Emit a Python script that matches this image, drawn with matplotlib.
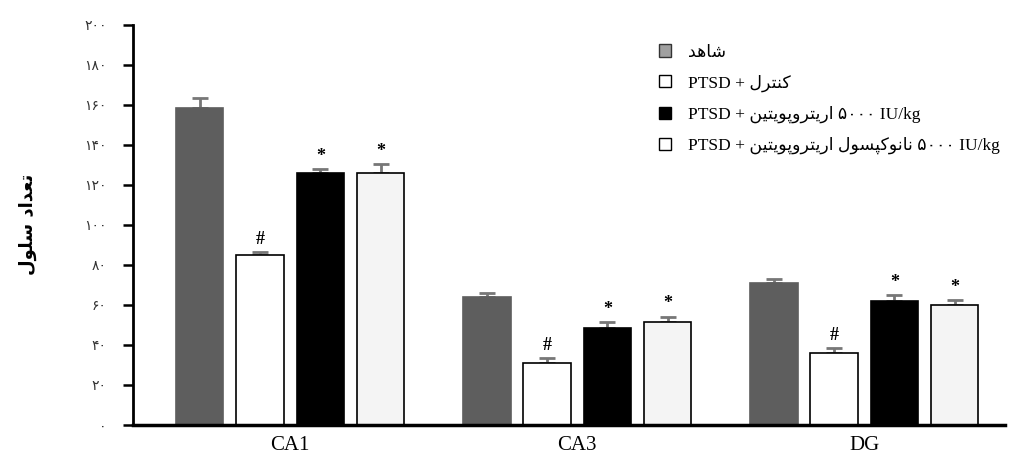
import matplotlib
matplotlib.use('Agg')
import matplotlib.pyplot as plt
from matplotlib.patches import Patch
import numpy as np

# داده ها (خوانده شده از تصویر)
regions = ['CA1', 'CA3', 'DG']
shahed = [158.5, 64, 71]
shahed_err = [5, 2, 2]
control = [85, 31, 36]
control_err = [1.5, 2.5, 2.5]
epo = [126, 48.5, 62]
epo_err = [2, 3, 3]
nano = [126, 51.5, 60]
nano_err = [4.5, 2.7, 2.5]
marks_control = ['#', '#', '#']
marks_epo = ['*', '*', '*']
marks_nano = ['*', '*', '*']
yticks = [0, 20, 40, 60, 80, 100, 120, 140, 160, 180, 200]

# شکل دادن حروف فارسی چون matplotlib خودش این کار را نمی کند
forms = {
    'ا': ('\ufe8d', '\ufe8e', None, None),
    'د': ('\ufea9', '\ufeaa', None, None),
    'ر': ('\ufead', '\ufeae', None, None),
    'و': ('\ufeed', '\ufeee', None, None),
    'ت': ('\ufe95', '\ufe96', '\ufe97', '\ufe98'),
    'ع': ('\ufec9', '\ufeca', '\ufecb', '\ufecc'),
    'س': ('\ufeb1', '\ufeb2', '\ufeb3', '\ufeb4'),
    'ش': ('\ufeb5', '\ufeb6', '\ufeb7', '\ufeb8'),
    'ل': ('\ufedd', '\ufede', '\ufedf', '\ufee0'),
    'ه': ('\ufee9', '\ufeea', '\ufeeb', '\ufeec'),
    'ن': ('\ufee5', '\ufee6', '\ufee7', '\ufee8'),
    'ک': ('\ufb8e', '\ufb8f', '\ufb90', '\ufb91'),
    'ی': ('\ufbfc', '\ufbfd', '\ufbfe', '\ufbff'),
    'پ': ('\ufb56', '\ufb57', '\ufb58', '\ufb59'),
}


def fa(word):
    out = []
    for i, ch in enumerate(word):
        if ch not in forms:
            out.append(ch)
            continue
        prev = word[i - 1] if i > 0 else ''
        nxt = word[i + 1] if i < len(word) - 1 else ''
        joins_prev = prev in forms and forms[prev][2] is not None
        joins_next = forms[ch][2] is not None and nxt in forms
        iso, fin, ini, med = forms[ch]
        if joins_prev and joins_next:
            out.append(med)
        elif joins_prev:
            out.append(fin)
        elif joins_next:
            out.append(ini)
        else:
            out.append(iso)
    return ''.join(out)[::-1]


def fa_num(n):
    return str(n).translate(str.maketrans('0123456789', '۰۱۲۳۴۵۶۷۸۹'))


labels = [
    fa('شاهد'),
    'PTSD + ' + fa('کنترل'),
    'PTSD + ' + fa('اریتروپویتین') + ' ' + fa_num(5000) + ' IU/kg',
    'PTSD + ' + fa('اریتروپویتین') + ' ' + fa('نانوکپسول') + ' ' + fa_num(5000) + ' IU/kg',
]

fig = plt.figure(figsize=(10.09, 4.68), dpi=100)
ax = fig.add_axes([0.132, 0.092, 0.864, 0.855])

x = np.arange(len(regions))
w = 0.165
step = 0.21
series = [
    (shahed, shahed_err, '#5e5e5e', '#5e5e5e', None),
    (control, control_err, 'white', 'black', marks_control),
    (epo, epo_err, 'black', 'black', marks_epo),
    (nano, nano_err, '#f4f4f4', 'black', marks_nano),
]

for i, (vals, errs, fc, ec, marks) in enumerate(series):
    pos = x + (i - 1.5) * step
    ax.bar(pos, vals, w, color=fc, edgecolor=ec, linewidth=1.2, zorder=2)
    ax.errorbar(pos, vals, yerr=[np.zeros(len(errs)), errs], fmt='none',
                ecolor='#777777', elinewidth=2, capsize=6, capthick=2, zorder=1)
    if marks:
        for p, v, e, m in zip(pos, vals, errs, marks):
            ax.annotate(m, (p, v + e), xytext=(0, 3), textcoords='offset points',
                        ha='center', va='bottom', fontsize=13,
                        family='Liberation Serif', fontweight='bold')

ax.set_xlim(-0.547, 2.49)
ax.set_ylim(0, 200)
ax.set_xticks(x)
ax.set_xticklabels(regions, family='Liberation Serif', fontsize=15)
ax.tick_params(axis='x', length=0, pad=8)
ax.set_yticks(yticks)
ax.set_yticklabels([fa_num(v) for v in yticks], family='DejaVu Sans', fontsize=10, color='#333333')
ax.tick_params(axis='y', direction='out', length=7, width=1.8, pad=12)

ax.spines['top'].set_visible(False)
ax.spines['right'].set_visible(False)
ax.spines['left'].set_linewidth(2)
ax.spines['bottom'].set_linewidth(2.5)

ax.set_ylabel(fa('تعداد سلول'), family='DejaVu Sans', fontweight='bold', fontsize=13, labelpad=34)

handles = [
    Patch(facecolor='#a0a0a0', edgecolor='#333333'),
    Patch(facecolor='white', edgecolor='black'),
    Patch(facecolor='black', edgecolor='black'),
    Patch(facecolor='white', edgecolor='black'),
]
ax.legend(handles, labels, loc='upper left', bbox_to_anchor=(0.585, 0.99), frameon=False,
          handlelength=0.7, handleheight=0.7, labelspacing=0.8, handletextpad=1.0,
          prop={'family': ['Liberation Serif', 'DejaVu Sans'], 'size': 12.5})

fig.savefig('out.png', dpi=100)
